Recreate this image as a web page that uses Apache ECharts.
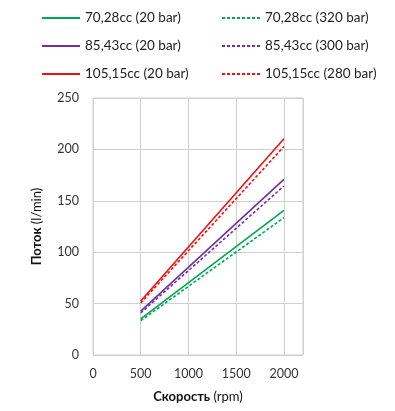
<!DOCTYPE html>
<html><head><meta charset="utf-8">
<script src="https://cdn.jsdelivr.net/npm/echarts@6/dist/echarts.min.js"></script>
<style>html,body{margin:0;padding:0;background:#fff}#c{width:395px;height:411px}</style>
</head><body><div id="c"></div>
<script>
const speeds = [500, 2000];
const s70_20 = [35.1, 140.6];
const s70_320 = [33.4, 133.6];
const s85_20 = [42.7, 170.9];
const s85_300 = [41.0, 164.4];
const s105_20 = [52.6, 210.3];
const s105_280 = [50.7, 202.8];
const names = ['70,28cc (20 bar)','70,28cc (320 bar)','85,43cc (20 bar)','85,43cc (300 bar)','105,15cc (20 bar)','105,15cc (280 bar)'];
const seriesData = [s70_20, s70_320, s85_20, s85_300, s105_20, s105_280];
const colors = ['#00a651','#00a651','#7030a0','#7030a0','#ee1111','#ee1111'];
const yTicks = [0, 50, 100, 150, 200, 250];
const xTicks = [0, 500, 1000, 1500, 2000];
const FONT = 'Lato';
const chart = echarts.init(document.getElementById('c'));
const series = names.map((n, i) => ({
  name: n, type: 'line', symbol: 'none', silent: true,
  data: speeds.map((x, j) => [x, seriesData[i][j]]),
  lineStyle: {color: colors[i], width: 1.6, type: i % 2 ? [3, 2] : 'solid'},
  itemStyle: {color: colors[i]}
}));
const legendCommon = {orient: 'vertical', itemWidth: 38, itemHeight: 10, itemGap: 14,
  itemStyle: {opacity: 0},
  textStyle: {fontFamily: FONT, fontSize: 13.5, color: '#222'}};
chart.setOption({
  animation: false,
  legend: [
    Object.assign({left: 36, top: 6, data: [names[0], names[2], names[4]]}, legendCommon),
    Object.assign({left: 216, top: 6, data: [names[1], names[3], names[5]]}, legendCommon)
  ],
  grid: {left: 93, right: 92, top: 98, bottom: 56, show: true, borderColor: '#d0d0d0', borderWidth: 1},
  xAxis: {type: 'value', min: 0, max: 2200, interval: 500,
    name: '{b|Скорость} (rpm)', nameLocation: 'middle', nameGap: 35,
    nameTextStyle: {fontFamily: FONT, fontSize: 13, color: '#111', rich: {b: {fontFamily: FONT, fontSize: 13, fontWeight: 'bold', color: '#111'}}},
    axisLine: {show: false}, axisTick: {show: false},
    splitLine: {lineStyle: {color: '#d0d0d0'}},
    axisLabel: {fontFamily: FONT, fontSize: 12.5, color: '#333', margin: 12,
      formatter: v => xTicks.includes(v) ? String(v) : ''}},
  yAxis: {type: 'value', min: 0, max: 250, interval: 50,
    name: '{b|Поток} (l/min)', nameLocation: 'middle', nameGap: 50, nameRotate: 90,
    nameTextStyle: {fontFamily: FONT, fontSize: 13, color: '#111', rich: {b: {fontFamily: FONT, fontSize: 13, fontWeight: 'bold', color: '#111'}}},
    axisLine: {show: false}, axisTick: {show: false},
    splitLine: {lineStyle: {color: '#d0d0d0'}},
    axisLabel: {fontFamily: FONT, fontSize: 12.5, color: '#333', margin: 14,
      formatter: v => yTicks.includes(v) ? String(v) : ''}},
  series: series
});
</script></body></html>
